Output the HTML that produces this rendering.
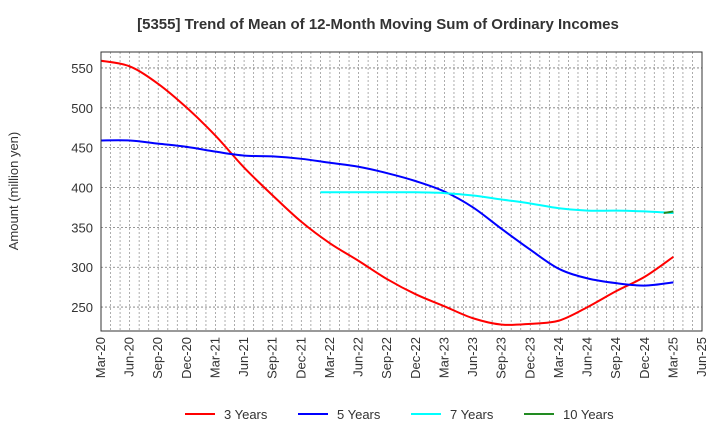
<!DOCTYPE html>
<html><head><meta charset="utf-8"><style>
body{margin:0;background:#fff;font-family:"Liberation Sans",sans-serif;}
svg text{font-family:"Liberation Sans",sans-serif;}
</style></head><body>
<svg id="chart" width="720" height="440">
<text x="378" y="29" text-anchor="middle" font-size="15" font-weight="bold" fill="#333">[5355]  Trend of Mean of 12-Month Moving Sum of Ordinary Incomes</text>
<text transform="translate(18,191) rotate(-90)" text-anchor="middle" font-size="13" fill="#333">Amount (million yen)</text>
<g id="grid"></g><g id="series"></g><g id="axes"></g><g id="legend"></g>
</svg>
<script>
const xLabels=["Mar-20","Jun-20","Sep-20","Dec-20","Mar-21","Jun-21","Sep-21","Dec-21","Mar-22","Jun-22","Sep-22","Dec-22","Mar-23","Jun-23","Sep-23","Dec-23","Mar-24","Jun-24","Sep-24","Dec-24","Mar-25","Jun-25"];
const yTicks=[250,300,350,400,450,500,550];
const s3=[559,552,530,500,465,425,390,357,330,308,285,266,251,236,228,229,233,250,270,288,313];
const s5=[459,459,455,451,445,440,439,436,431,426,418,408,395,375,348,322,298,286,280,277,281];
const s7Months=[23,24,27,30,33,36,39,42,45,48,51,54,57,60];
const s7=[394,394,394,394,394,393,390,385,380,374,371,371,370,368];
const s10Months=[59,60];
const s10=[368,370];
const L=101,R=702,T=52,B=331,Y0=220,Y1=570;
const NS="http://www.w3.org/2000/svg";
function xm(m){return L+(R-L)*m/63;}
function yv(v){return B-(B-T)*(v-Y0)/(Y1-Y0);}
function mk(tag,attrs,parent){const e=document.createElementNS(NS,tag);for(const k in attrs)e.setAttribute(k,attrs[k]);parent.appendChild(e);return e;}
const grid=document.getElementById('grid'),axes=document.getElementById('axes'),ser=document.getElementById('series'),leg=document.getElementById('legend');
for(let m=1;m<63;m++){const g=mk('line',{x1:xm(m),x2:xm(m),y1:T,y2:B,stroke:'#999','stroke-width':0.8,'stroke-dasharray':'2,2'},grid);

}
yTicks.forEach(v=>{const g=mk('line',{x1:L,x2:R,y1:yv(v),y2:yv(v),stroke:'#777','stroke-width':0.8,'stroke-dasharray':'2,2'},grid);


const t=mk('text',{x:L-8,y:yv(v)+5,'text-anchor':'end','font-size':13,fill:'#333'},axes);t.textContent=v;

});
xLabels.forEach((l,i)=>{const x=xm(i*3);const t=mk('text',{transform:`translate(${x+4},${B+6}) rotate(-90)`,'text-anchor':'end','font-size':13,fill:'#333'},axes);t.textContent=l;

});
const fr=mk('rect',{x:L,y:T,width:R-L,height:B-T,fill:'none',stroke:'#333','stroke-width':1},axes);


function smooth(pts){let d=`M${pts[0][0]},${pts[0][1]}`;for(let i=0;i<pts.length-1;i++){const p0=pts[Math.max(0,i-1)],p1=pts[i],p2=pts[i+1],p3=pts[Math.min(pts.length-1,i+2)];
d+=` C${p1[0]+(p2[0]-p0[0])/6},${p1[1]+(p2[1]-p0[1])/6} ${p2[0]-(p3[0]-p1[0])/6},${p2[1]-(p3[1]-p1[1])/6} ${p2[0]},${p2[1]}`;}return d;}
function draw(pts,color,name){const p=mk('path',{d:smooth(pts),fill:'none',stroke:color,'stroke-width':2},ser);

}
draw(s3.map((v,i)=>[xm(i*3),yv(v)]),'#f00','series-3-years');
draw(s5.map((v,i)=>[xm(i*3),yv(v)]),'#00f','series-5-years');
draw(s7.map((v,i)=>[xm(s7Months[i]),yv(v)]),'#0ff','series-7-years');
draw(s10.map((v,i)=>[xm(s10Months[i]),yv(v)]),'#228b22','series-10-years');
[["3 Years","#f00",185],["5 Years","#00f",298],["7 Years","#0ff",411],["10 Years","#228b22",524]].forEach(([n,c,x])=>{
const g=mk('g',{},leg);


mk('line',{x1:x,x2:x+30,y1:414,y2:414,stroke:c,'stroke-width':2},g);
const t=mk('text',{x:x+39,y:419,'font-size':13,fill:'#333'},g);t.textContent=n;});
</script>
</body></html>
